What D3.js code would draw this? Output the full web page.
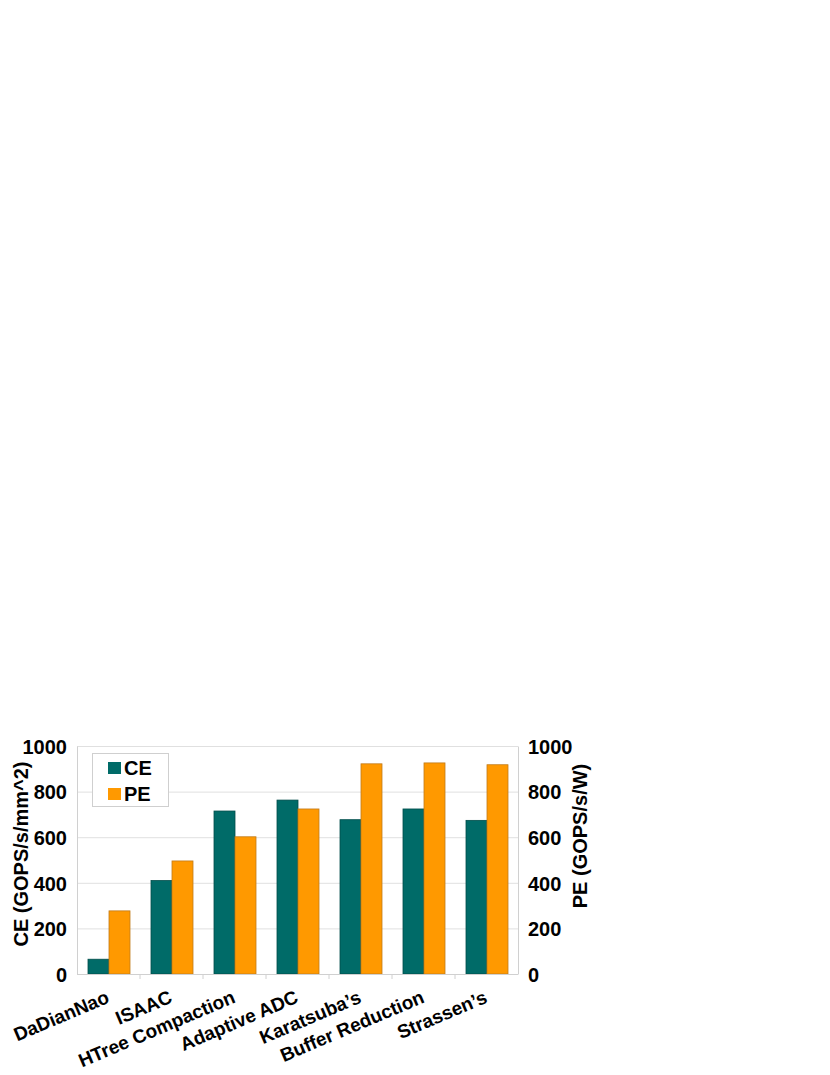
<!DOCTYPE html>
<html>
<head>
<meta charset="utf-8">
<script src="https://cdn.jsdelivr.net/npm/d3@7"></script>
<style>
	body { margin: 0; background: #fff; }
	svg text { font-family: "Liberation Sans", Arial, sans-serif; font-weight: bold; fill: #000; }
</style>
</head>
<body>
<svg id="chart" width="830" height="1075"></svg>
<script>
const categories = ["DaDianNao", "ISAAC", "HTree Compaction", "Adaptive ADC", "Karatsuba\u2019s", "Buffer Reduction", "Strassen\u2019s"];
const ceValues = [67, 412, 717, 765, 679, 726, 676];
const peValues = [279, 498, 604, 726, 924, 928, 920];
const yTicks = [0, 200, 400, 600, 800, 1000];
const seriesNames = ["CE", "PE"];
const seriesColors = ["#006b68", "#ff9900"];
const seriesStroke = ["#004d4a", "#c07a1a"];

let svg = d3.select('#chart');
let plotLeft = 77, plotRight = 518, plotTop = 746, plotBottom = 974;

let x = d3.scaleBand()
	.domain(categories)
	.range([plotLeft, plotRight]);

// two bars per group, half a bar of space on each side
let xs = d3.scaleBand()
	.domain(seriesNames)
	.range([0, x.bandwidth()])
	.paddingOuter(0.5)
	.paddingInner(0);

let y = d3.scaleLinear()
	.domain([0, 1000])
	.range([plotBottom, plotTop]);

// gridlines
svg.append('g')
	.selectAll('line')
	.data(yTicks)
	.enter()
	.append('line')
	.attr('x1', plotLeft)
	.attr('x2', plotRight)
	.attr('y1', d => y(d) + 0.5)
	.attr('y2', d => y(d) + 0.5)
	.style('stroke', '#e0e0e0')
	.style('stroke-width', 1);

// bars
let data = categories.map((c, i) => ({ name: c, values: [ceValues[i], peValues[i]] }));

let groups = svg.selectAll('.grp')
	.data(data)
	.enter()
	.append('g')
	.attr('class', 'grp')
	.attr('transform', d => `translate(${x(d.name)},0)`);

groups.selectAll('rect')
	.data(d => d.values.map((v, k) => ({ s: seriesNames[k], v: v, k: k })))
	.enter()
	.append('rect')
	.attr('x', d => xs(d.s) + 0.5)
	.attr('width', xs.bandwidth())
	.attr('y', d => y(d.v) + 0.5)
	.attr('height', d => plotBottom - y(d.v) - 0.5)
	.style('fill', d => seriesColors[d.k])
	.style('stroke', d => seriesStroke[d.k])
	.style('stroke-width', 0.8);

// axes
let fmt = d3.format('d');
let leftAxis = d3.axisLeft(y).tickValues(yTicks).tickFormat(fmt).tickSize(0).tickPadding(10);
let rightAxis = d3.axisRight(y).tickValues(yTicks).tickFormat(fmt).tickSize(0).tickPadding(10);

let gl = svg.append('g')
	.attr('transform', `translate(${plotLeft},0)`)
	.call(leftAxis);
gl.select('.domain').style('stroke', '#d0d0d0');
gl.selectAll('text').style('font-size', '20px').attr('dy', '0.36em');

let gr = svg.append('g')
	.attr('transform', `translate(${plotRight},0)`)
	.call(rightAxis);
gr.select('.domain').style('stroke', '#d0d0d0');
gr.selectAll('text').style('font-size', '20px').attr('dy', '0.36em');

// x axis line and category ticks
svg.append('line')
	.attr('x1', plotLeft).attr('x2', plotRight)
	.attr('y1', plotBottom + 0.5).attr('y2', plotBottom + 0.5)
	.style('stroke', '#d0d0d0');

svg.append('g')
	.selectAll('line')
	.data(categories.slice(1))
	.enter()
	.append('line')
	.attr('x1', d => x(d))
	.attr('x2', d => x(d))
	.attr('y1', plotBottom)
	.attr('y2', plotBottom + 5)
	.style('stroke', '#d0d0d0');

// category labels
svg.append('g')
	.selectAll('text')
	.data(categories)
	.enter()
	.append('text')
	.attr('text-anchor', 'end')
	.attr('transform', d => `translate(${x(d) + x.bandwidth() / 2 + 2},${plotBottom + 28}) rotate(-23)`)
	.style('font-size', '19px')
	.text(d => d);

// axis titles
svg.append('text')
	.attr('text-anchor', 'middle')
	.attr('transform', `translate(28,854) rotate(-90)`)
	.style('font-size', '20px')
	.text('CE (GOPS/s/mm^2)');

svg.append('text')
	.attr('text-anchor', 'middle')
	.attr('transform', `translate(587,836) rotate(-90)`)
	.style('font-size', '20px')
	.text('PE (GOPS/s/W)');

// legend
let legend = svg.append('g').attr('transform', 'translate(92,753)');
legend.append('rect')
	.attr('x', 0.5).attr('y', 0.5)
	.attr('width', 76).attr('height', 53)
	.style('fill', '#fff')
	.style('stroke', '#cfcfcf');

let li = legend.selectAll('.li')
	.data(seriesNames)
	.enter()
	.append('g')
	.attr('transform', (d, i) => `translate(16,${9 + i * 26})`);

li.append('rect')
	.attr('width', 13).attr('height', 12)
	.style('fill', (d, i) => seriesColors[i]);

li.append('text')
	.attr('x', 16)
	.attr('y', 6)
	.attr('dy', '0.36em')
	.style('font-size', '20px')
	.text(d => d);
</script>
</body>
</html>
